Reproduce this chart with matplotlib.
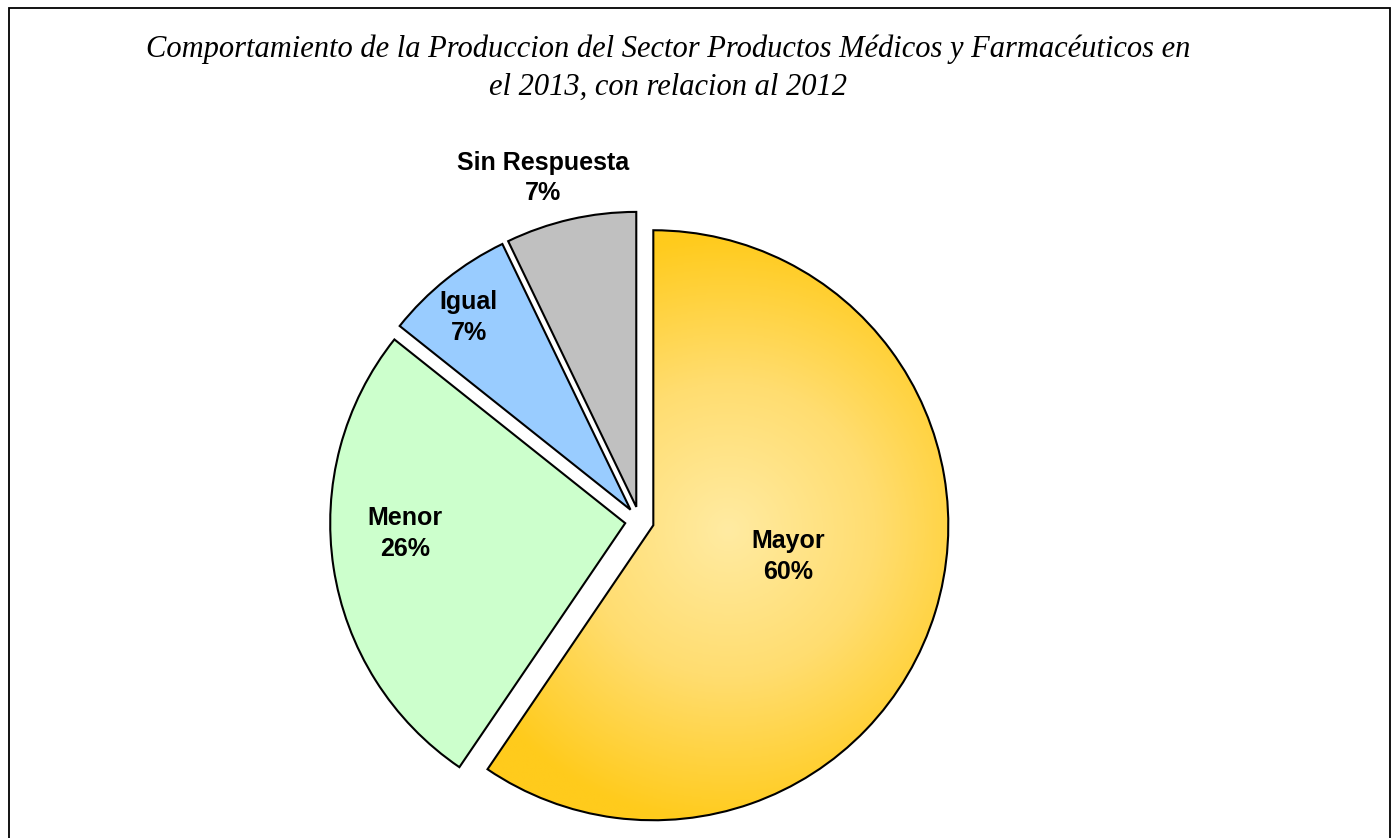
import numpy as np
import matplotlib.pyplot as plt
from matplotlib.patches import Rectangle
from matplotlib.colors import LinearSegmentedColormap

categorias = ['Mayor', 'Menor', 'Igual', 'Sin Respuesta']
porcentajes = [59.5, 26.2, 7.15, 7.15]
colores = ['#FFCC22', '#CCFFCC', '#99CCFF', '#C0C0C0']

titulo = ('Comportamiento de la Produccion del Sector Productos Médicos y Farmacéuticos en\n'
          'el 2013, con relacion al 2012')

fig = plt.figure(figsize=(13.96, 8.38), dpi=100)
fig.patches.append(Rectangle((8.5 / 1396, -0.02), (1381) / 1396, (838 - 8.5) / 838 + 0.02,
                             transform=fig.transFigure, fill=False, edgecolor='black', linewidth=1.3))

fig.text(0.4785, 0.919, titulo, ha='center', va='center', fontsize=22, style='italic',
         family='Liberation Serif', linespacing=1.42)

# pie area: center ~ (639.5, 521) px, radius 295 px
ax = fig.add_axes([285.5 / 1396, -37 / 838, 708 / 1396, 708 / 838])
wedges, _ = ax.pie(porcentajes, colors=colores, startangle=90, counterclock=False,
                   explode=[0.049] * 4, radius=1,
                   wedgeprops=dict(edgecolor='black', linewidth=1.5))
ax.set_aspect('equal')
ax.axis('off')

# radial gradient on the "Mayor" slice
mayor = wedges[0]
mayor.set_facecolor('none')
mayor.set_zorder(3)
cmap = LinearSegmentedColormap.from_list('oro', ['#FFEBA2', '#FFDD70', '#FFCB1C'])
xx, yy = np.meshgrid(np.linspace(-1.2, 1.2, 600), np.linspace(-1.2, 1.2, 600))
dist = np.hypot(xx - 0.3, yy + 0.03)
img = ax.imshow(dist, cmap=cmap, vmin=0, vmax=1.0, extent=(-1.2, 1.2, -1.2, 1.2),
                origin='lower', zorder=2, interpolation='bilinear')
img.set_clip_path(mayor)
ax.set_xlim(-1.2, 1.2)
ax.set_ylim(-1.2, 1.2)

# labels along each slice bisector: (distance from slice tip, angle offset)
pos_etiquetas = [(0.47, 4), (0.747, -6), (0.852, 1.5), (1.159, 3)]
for w, cat, pct, (d, off) in zip(wedges, categorias, porcentajes, pos_etiquetas):
    ang = np.deg2rad((w.theta1 + w.theta2) / 2 + off)
    cx, cy = w.center
    ax.text(cx + d * np.cos(ang), cy + d * np.sin(ang), f'{cat}\n{pct:.0f}%',
            ha='center', va='center', fontsize=18, fontweight='bold',
            family='Liberation Sans', linespacing=1.36, zorder=5)

fig.savefig('out.png', dpi=100)
